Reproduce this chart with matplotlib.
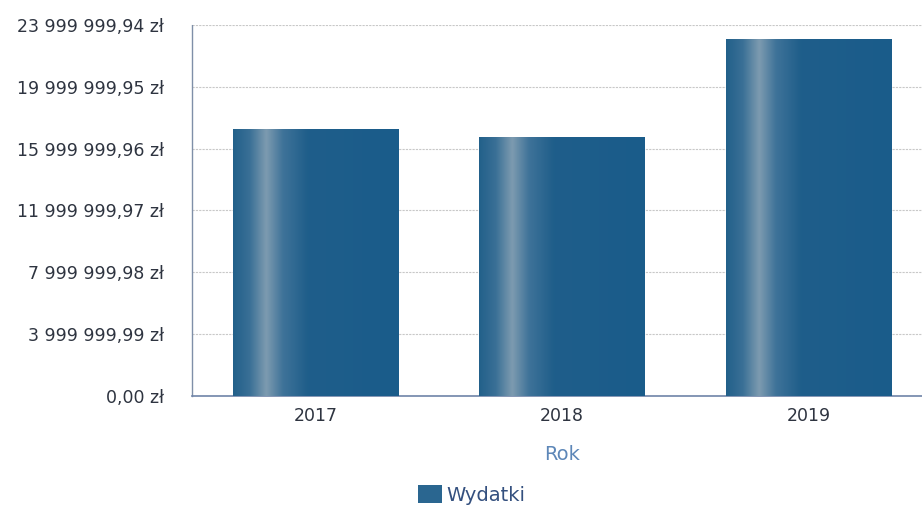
import numpy as np
import matplotlib.pyplot as plt
from matplotlib.colors import LinearSegmentedColormap
from matplotlib.patches import Patch

plt.rcParams['font.family'] = ['DejaVu Sans']

years = ['2017', '2018', '2019']
wydatki = [17250000, 16720000, 23070000]
ticks = [0, 3999999.99, 7999999.98, 11999999.97, 15999999.96, 19999999.95, 23999999.94]


def fmt_pln(v):
    s = f'{v:,.2f}'
    whole, dec = s.split('.')
    return whole.replace(',', ' ') + ',' + dec + ' zł'


fig = plt.figure(figsize=(9.22, 5.09), dpi=100)
ax = fig.add_axes([0.2082, 0.222, 0.803, 0.729])

x = np.arange(len(years))
bars = ax.bar(x, wydatki, width=0.67, color='#1d5f8c', zorder=2)

# horizontal gradient with a light stripe, clipped to each bar
cmap = LinearSegmentedColormap.from_list('bar', [
    (0.0, '#22608a'), (0.1, '#3a7096'), (0.2, '#7d9bb0'), (0.3, '#3f7399'),
    (0.45, '#1f5e8a'), (1.0, '#1a5c8b')])
grad = np.linspace(0, 1, 256).reshape(1, -1)
for b in bars:
    x0, w, h = b.get_x(), b.get_width(), b.get_height()
    im = ax.imshow(grad, cmap=cmap, aspect='auto', extent=[x0, x0 + w, 0, h],
                   zorder=3, interpolation='bicubic')
    im.set_clip_path(b)

ax.set_xlim(-0.5, 2.5)
ax.set_ylim(0, ticks[-1])
ax.set_yticks(ticks)
ax.set_yticklabels([fmt_pln(t) for t in ticks])
ax.set_xticks(x)
ax.set_xticklabels(years)

ax.grid(axis='y', color='#c8c8c8', linestyle=(0, (2, 1)), linewidth=0.8, zorder=0)
ax.tick_params(axis='both', length=0, labelsize=12.5, colors='#2e3440')
ax.tick_params(axis='y', pad=20)
ax.tick_params(axis='x', pad=8)

for side in ['top', 'right']:
    ax.spines[side].set_visible(False)
ax.spines['left'].set_color('#7f8fa8')
ax.spines['left'].set_linestyle((0, (1, 1)))
ax.spines['left'].set_linewidth(1.0)
ax.spines['bottom'].set_color('#6f84a8')
ax.spines['bottom'].set_linewidth(1.2)

fig.text(562 / 922, 1 - 454 / 509, 'Rok', ha='center', va='center',
         fontsize=14, color='#5d87b8')

fig.legend(handles=[Patch(facecolor='#2a6690', label='Wydatki')],
           loc='center', bbox_to_anchor=(472 / 922, 1 - 495 / 509),
           frameon=False, fontsize=14, handlelength=1.2, handleheight=1.0,
           handletextpad=0.25, labelcolor='#34507f')

fig.savefig('out.png', dpi=100)
